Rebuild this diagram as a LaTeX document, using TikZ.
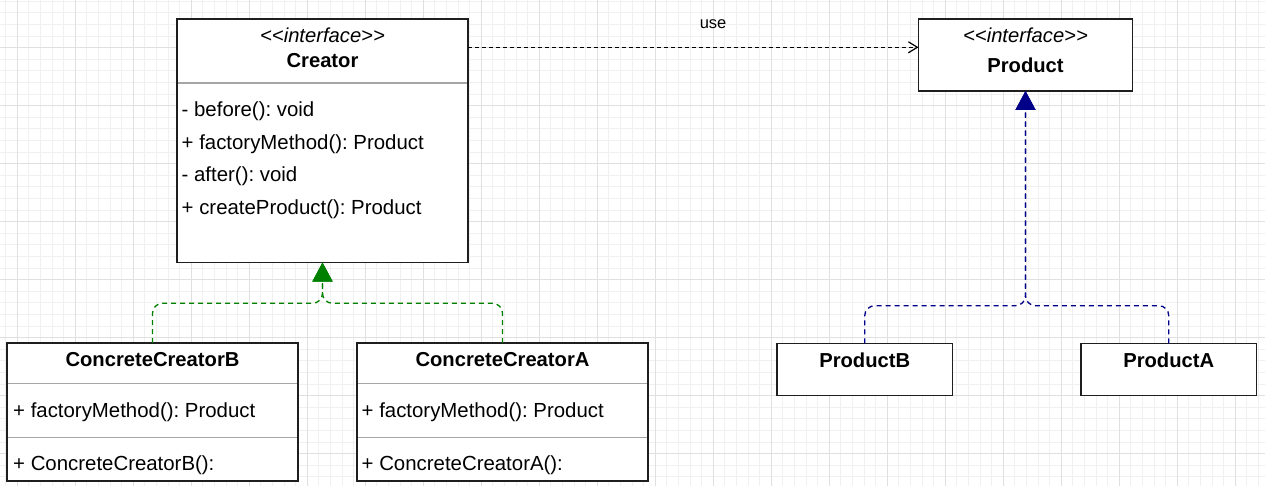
\documentclass[tikz,border=0pt]{standalone}
\usepackage{fontspec}
\setmainfont{Liberation Sans}[Ligatures=TeXOff]
\usetikzlibrary{arrows.meta}
\frenchspacing

\definecolor{gridminor}{HTML}{F0F0F0}
\definecolor{gridmajor}{HTML}{E0E0E0}
\definecolor{boxline}{HTML}{1E1E1E}
\definecolor{divline}{HTML}{A6A6A6}
\definecolor{implgreen}{HTML}{008000}
\definecolor{implblue}{HTML}{000088}

\begin{document}
\begin{tikzpicture}[
    x=1pt, y=-1pt,
    cls/.style={draw=boxline, line width=1.6pt, fill=white, anchor=north west, inner sep=0pt, outer sep=0pt},
    divider/.style={draw=divline, line width=1.2pt},
    member/.style={anchor=base west, inner sep=0pt, font=\fontsize{20.4}{24}\selectfont},
    clsname/.style={anchor=base, inner sep=0pt, font=\fontsize{20.2}{24}\selectfont\bfseries},
    stereo/.style={anchor=base, inner sep=0pt, font=\fontsize{20.2}{24}\selectfont\itshape},
    depend/.style={draw=black, line width=1.2pt, dash pattern=on 4pt off 3pt, -{Straight Barb[length=9pt, width=11pt]}},
    realize/.style={line width=1.3pt, dash pattern=on 5pt off 4pt, rounded corners=10pt, -{Triangle[length=19pt, width=20pt]}},
    font=\fontsize{20}{24}\selectfont
]
    \useasboundingbox[fill=white] (0,0) rectangle (1265,486);

    % background grid
    \foreach \i in {0,...,109} \draw[gridminor, line width=1pt] ({5.7+11.6*\i},0) -- ({5.7+11.6*\i},486);
    \foreach \j in {0,...,41} \draw[gridminor, line width=1pt] (0,{1.3+11.6*\j}) -- (1265,{1.3+11.6*\j});
    \foreach \i in {0,...,21} \draw[gridmajor, line width=1pt] ({17.3+58*\i},0) -- ({17.3+58*\i},486);
    \foreach \j in {0,...,7} \draw[gridmajor, line width=1pt] (0,{47.7+58*\j}) -- (1265,{47.7+58*\j});

    % class boxes
    \node[cls, minimum width=291pt, minimum height=243.5pt] (creator) at (177,19) {};
    \node[cls, minimum width=214pt, minimum height=72pt] (product) at (918.5,19) {};
    \node[cls, minimum width=291pt, minimum height=138pt] (ccB) at (7,343) {};
    \node[cls, minimum width=291pt, minimum height=138pt] (ccA) at (357,343) {};
    \node[cls, minimum width=175.5pt, minimum height=52pt] (prodB) at (777,343.3) {};
    \node[cls, minimum width=175.5pt, minimum height=52pt] (prodA) at (1081,343.3) {};

    % compartment lines
    \draw[divider] (178,83) -- (467,83);
    \draw[divider] (8,383.3) -- (297,383.3);
    \draw[divider] (8,437.3) -- (297,437.3);
    \draw[divider] (358,383.3) -- (647,383.3);
    \draw[divider] (358,437.3) -- (647,437.3);

    % Creator
    \node[stereo] (creatorSt) at (322.5,42.4) {<<interface>>};
    \node[clsname] (creatorNm) at (322.5,67.3) {Creator};
    \node[member] (cm1) at (181.5,116.7) {- before(): void};
    \node[member] (cm2) at (181.5,149.3) {+ factoryMethod(): Product};
    \node[member] (cm3) at (181.5,181.9) {- after(): void};
    \node[member] (cm4) at (181.5,214.5) {+ createProduct(): Product};

    % Product
    \node[stereo] (productSt) at (1025.5,42.4) {<<interface>>};
    \node[clsname] (productNm) at (1025.5,72.5) {Product};

    % concrete creators
    \node[clsname] (ccBNm) at (152.5,366.5) {ConcreteCreatorB};
    \node[member] (ccBm1) at (13,417.5) {+ factoryMethod(): Product};
    \node[member] (ccBm2) at (13,470.2) {+ ConcreteCreatorB():};
    \node[clsname] (ccANm) at (502.5,366.5) {ConcreteCreatorA};
    \node[member] (ccAm1) at (361.5,417.5) {+ factoryMethod(): Product};
    \node[member] (ccAm2) at (361.5,470.2) {+ ConcreteCreatorA():};

    % concrete products
    \node[clsname] (prodBNm) at (864.75,367.3) {ProductB};
    \node[clsname] (prodANm) at (1168.75,367.3) {ProductA};

    % use dependency
    \draw[depend] ([yshift=-28.3pt]creator.north east) -- node[pos=0.544, anchor=base, yshift=18.3pt, inner sep=0pt, font=\fontsize{16.5}{20}\selectfont] (useLbl) {use} ([yshift=-28.3pt]product.north west);

    % realizations
    \draw[realize, implgreen] (ccB.north) -- ++(0,-39.7) -| (creator.south);
    \draw[realize, implgreen] (ccA.north) -- ++(0,-39.7) -| (creator.south);
    \draw[realize, implblue] (prodB.north) -- ++(0,-37.6) -| (product.south);
    \draw[realize, implblue] (prodA.north) -- ++(0,-37.6) -| (product.south);
\end{tikzpicture}
\end{document}
